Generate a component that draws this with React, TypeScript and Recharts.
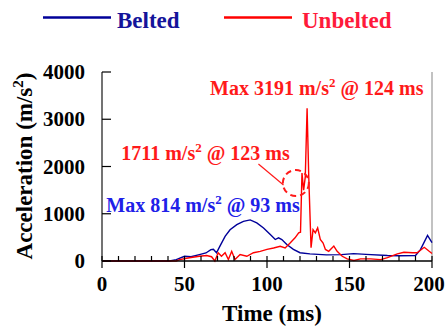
import { LineChart, Line, XAxis, YAxis, ReferenceDot, ReferenceLine } from "recharts";

const beltedTime = [0, 20, 41, 45, 50, 54, 59, 63, 66, 67.5, 69.4, 71.4, 74.6, 77.6, 81.7, 85.7, 89.8, 93.8, 97.9, 102, 105, 107, 109, 112, 116, 120, 126, 136, 145, 152.5, 160, 173, 180, 190, 193, 197.3, 200];
const beltedAccel = [0, 0, 0, 30, 100, 90, 135, 170, 240, 250, 175, 310, 520, 660, 770, 840, 870, 805, 700, 560, 455, 490, 455, 350, 245, 175, 150, 130, 135, 155, 140, 115, 110, 115, 240, 540, 390];

const unbeltedTime = [0, 20, 45, 47, 53, 59, 63.4, 66.4, 68.4, 70.4, 72.4, 74.6, 76.6, 78.6, 80.6, 83.7, 87.8, 91.8, 95.9, 100, 104, 108, 111, 114, 117, 119.2, 120.3, 121.2, 122.2, 123.2, 124.3, 125.3, 126.7, 127.9, 129.3, 130.7, 132.3, 134, 135.4, 137.4, 140.5, 142.5, 145.6, 148.6, 152.7, 156.7, 162.8, 168.9, 173, 179, 183, 188.2, 191, 195.3, 198.3, 200];
const unbeltedAccel = [0, 0, 0, 30, 70, 100, 115, 90, 0, 175, 100, 175, 30, 205, 30, 135, 100, 175, 205, 245, 275, 310, 275, 380, 490, 595, 610, 1860, 1500, 1780, 3230, 1790, 280, 665, 595, 700, 455, 380, 245, 205, 315, 205, 100, 45, 10, 45, 45, 30, 70, 150, 185, 175, 175, 290, 205, 160];

const xTicks = [0, 10, 20, 30, 40, 50, 60, 70, 80, 90, 100, 110, 120, 130, 140, 150, 160, 170, 180, 190, 200];
const yTicks = [0, 1000, 2000, 3000, 4000];

const belted = beltedTime.map((t, i) => ({ t, v: beltedAccel[i] }));
const unbelted = unbeltedTime.map((t, i) => ({ t, v: unbeltedAccel[i] }));

const FONT = "'Liberation Serif', 'Times New Roman', serif";
const RED = "#ff1a1a";

const XTick = ({ x, y, payload }: any) => {
  const v = payload.value;
  const major = v % 50 === 0;
  // last label sits against the picture edge, nudge it in
  const lx = v === 200 ? x - 3 : x;
  return (
    <g>
      <line x1={x} x2={x} y1={y - 5} y2={major ? y + 7 : y} stroke="#000" strokeWidth={1.2} />
      {major && (
        <text x={lx} y={y + 30} textAnchor="middle" fontFamily={FONT} fontWeight="bold" fontSize={21} fill="#000">
          {v}
        </text>
      )}
    </g>
  );
};

const YTick = ({ x, y, payload }: any) => (
  <g>
    <line x1={x} x2={x + 9} y1={y} y2={y} stroke="#000" strokeWidth={1.2} />
    <text x={x - 17} y={y + 7} textAnchor="end" fontFamily={FONT} fontWeight="bold" fontSize={21} fill="#000">
      {payload.value}
    </text>
  </g>
);

const Note = (color: string, pre: string, post: string) => (props: any) => (
  <text x={props.cx} y={props.cy} fontFamily={FONT} fontWeight="bold" fontSize={20} fill={color}>
    {pre}
    <tspan fontSize={13} dy={-8}>2</tspan>
    <tspan dy={8}>{post}</tspan>
  </text>
);

export default function App() {
  return (
    <div style={{ position: "absolute", left: 0, top: 0, width: 445, height: 331, background: "#fff" }}>
      <LineChart width={445} height={331} margin={{ top: 72, right: 13, bottom: 0, left: 0 }}>
        <XAxis
          dataKey="t"
          type="number"
          domain={[0, 200]}
          ticks={xTicks}
          interval={0}
          tickSize={0}
          tickMargin={0}
          height={70}
          tick={<XTick />}
          tickLine={false}
          axisLine={{ stroke: "#000", strokeWidth: 1.5 }}
          allowDuplicatedCategory={false}
        />
        <YAxis
          type="number"
          domain={[0, 4000]}
          ticks={yTicks}
          interval={0}
          width={102}
          tickSize={0}
          tickMargin={0}
          tick={<YTick />}
          tickLine={false}
          axisLine={{ stroke: "#444", strokeWidth: 1.5 }}
        />
        <ReferenceLine x={200} stroke="#999" strokeWidth={1.2} />
        <Line data={belted} dataKey="v" stroke="#000099" strokeWidth={1.4} dot={false} isAnimationActive={false} />
        <Line data={unbelted} dataKey="v" stroke="#ff0000" strokeWidth={1.4} dot={false} isAnimationActive={false} />
        <ReferenceLine segment={[{ x: 94.8, y: 2053 }, { x: 110, y: 1610 }]} stroke={RED} strokeWidth={1.2} />
        <ReferenceDot x={117.5} y={1650} r={13} fill="none" stroke={RED} strokeWidth={2} strokeDasharray="6 4" />
        <ReferenceDot x={65.5} y={3510} r={0} shape={Note(RED, "Max 3191 m/s", " @ 124 ms")} />
        <ReferenceDot x={11.7} y={2137} r={0} shape={Note(RED, "1711 m/s", " @ 123 ms")} />
        <ReferenceDot x={2.6} y={1046} r={0} shape={Note("#2020e8", "Max 814 m/s", " @ 93 ms")} />
      </LineChart>
      <svg width={445} height={331} style={{ position: "absolute", left: 0, top: 0, pointerEvents: "none" }}>
        <line x1={43} x2={111} y1={17.5} y2={17.5} stroke="#000099" strokeWidth={2.5} />
        <text x={117} y={27.5} fontFamily={FONT} fontWeight="bold" fontSize={23} fill="#14149a">
          Belted
        </text>
        <line x1={224} x2={292} y1={17.5} y2={17.5} stroke="#ff0000" strokeWidth={2.5} />
        <text x={302} y={27.5} fontFamily={FONT} fontWeight="bold" fontSize={23} fill="#ff1a3a">
          Unbelted
        </text>
        <text x={272} y={321} textAnchor="middle" fontFamily={FONT} fontWeight="bold" fontSize={23} fill="#000">
          Time (ms)
        </text>
        <text
          transform="translate(32,166) rotate(-90)"
          textAnchor="middle"
          fontFamily={FONT}
          fontWeight="bold"
          fontSize={23}
          fill="#000"
        >
          Acceleration (m/s<tspan fontSize={15} dy={-9}>2</tspan>
          <tspan dy={9}>)</tspan>
        </text>
      </svg>
    </div>
  );
}
